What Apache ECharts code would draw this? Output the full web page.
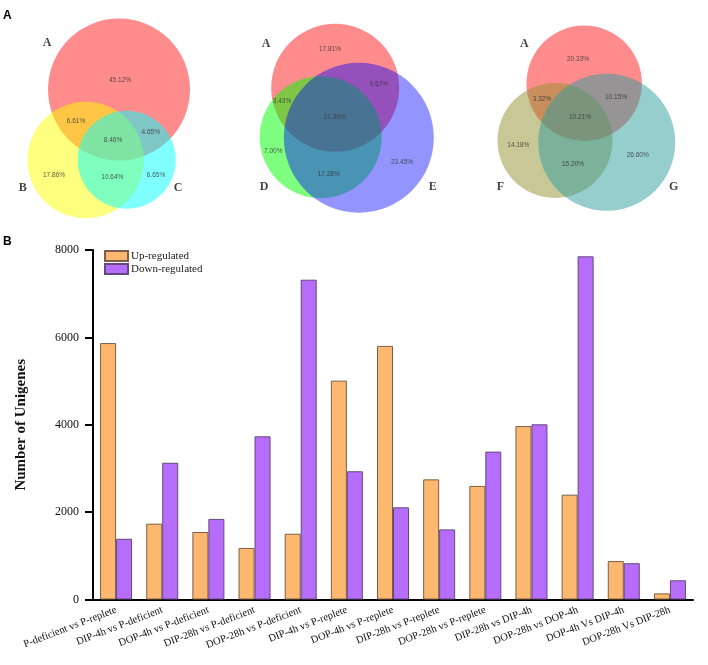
<!DOCTYPE html>
<html>
<head>
<meta charset="utf-8">
<script src="https://cdn.jsdelivr.net/npm/echarts@6/dist/echarts.min.js"></script>
<style>
  html, body { margin: 0; padding: 0; background: #fff; }
  #chart { width: 708px; height: 665px; }
</style>
</head>
<body>
<div id="chart"></div>
<script>
// panel B data
const categories = [
  'P-deficient vs P-replete', 'DIP-4h vs P-deficient', 'DOP-4h vs P-deficient',
  'DIP-28h vs P-deficient', 'DOP-28h vs P-deficient', 'DIP-4h vs P-replete',
  'DOP-4h vs P-replete', 'DIP-28h vs P-replete', 'DOP-28h vs P-replete',
  'DIP-28h vs DIP-4h', 'DOP-28h vs DOP-4h', 'DOP-4h Vs DIP-4h', 'DOP-28h Vs DIP-28h'
]
const upRegulated = [5870, 1735, 1545, 1180, 1505, 5010, 5805, 2750, 2600, 3970, 2400, 880, 140]
const downRegulated = [1390, 3130, 1845, 3735, 7320, 2935, 2110, 1605, 3385, 4010, 7855, 830, 440]
const yMin = 0
const yMax = 8000
const yStep = 2000

// panel A: venn circles [cx, cy, r] in panel units
const vennCircles = [
  [119, 89.5, 71], [85.7, 160, 58.3], [126.7, 159.7, 49],
  [335.2, 87.8, 64], [320.7, 137.2, 61], [358.8, 137.7, 75],
  [584.2, 83.3, 57.7], [555, 140.5, 57.5], [606.7, 142.3, 68.5]
]
const vennSetNames = [
  ['A', 47, 43], ['B', 22.7, 188], ['C', 178, 188],
  ['A', 266, 44.3], ['D', 264, 187.3], ['E', 432.7, 187.3],
  ['A', 524.3, 44.3], ['F', 500.3, 187.3], ['G', 673.7, 187.3]
]
const vennPercents = [
  ['45.12%', 120, 80.7], ['6.61%', 76, 121], ['8.46%', 113, 140.7], ['4.65%', 150.7, 132.3],
  ['17.86%', 54, 175.7], ['10.64%', 112.3, 177.3], ['6.65%', 156, 175.7],
  ['17.81%', 330, 49.3], ['9.67%', 378.7, 84.7], ['3.43%', 282, 101], ['21.36%', 334.7, 117.3],
  ['7.00%', 273.3, 151.7], ['23.45%', 402, 162.3], ['17.28%', 328.7, 174],
  ['20.33%', 578, 59.3], ['3.32%', 542, 99.3], ['10.15%', 616, 97.7], ['10.21%', 580, 117],
  ['14.18%', 518.3, 145.7], ['15.20%', 573, 164], ['26.60%', 637.7, 155.7]
]

const circleColors = [
  'rgba(255,0,0,0.45)', 'rgba(255,255,0,0.5)', 'rgba(0,255,255,0.5)',
  'rgba(255,0,0,0.45)', 'rgba(0,255,0,0.5)', 'rgba(0,0,255,0.42)',
  'rgba(255,0,0,0.45)', 'rgba(145,145,45,0.5)', 'rgba(45,155,155,0.5)'
]
const serif = '"Liberation Serif", "Times New Roman", serif'
const sans = '"Liberation Sans", Arial, sans-serif'

let mychart = echarts.init(document.getElementById('chart'))

let option = {
  animation: false,
  backgroundColor: '#fff',
  title: [
    { text: 'A', left: 3, top: 10, padding: 0, textStyle: { fontFamily: sans, fontSize: 12, fontWeight: 'bold', color: '#000' } },
    { text: 'B', left: 3, top: 236, padding: 0, textStyle: { fontFamily: sans, fontSize: 12, fontWeight: 'bold', color: '#000' } }
  ],
  legend: {
    data: ['Up-regulated', 'Down-regulated'],
    orient: 'vertical',
    left: 104,
    top: 250,
    padding: 0,
    itemWidth: 23,
    itemHeight: 10,
    itemGap: 1,
    icon: 'rect',
    textStyle: { fontFamily: serif, fontSize: 11, color: '#222', padding: [0, 0, 0, -2] }
  },
  grid: [
    { left: 0, top: 0, width: 708, height: 230 },
    { left: 93, top: 250, width: 600, height: 349.5 }
  ],
  xAxis: [
    { gridIndex: 0, type: 'value', min: 0, max: 708, show: false },
    {
      gridIndex: 1,
      type: 'category',
      data: categories,
      axisLine: { lineStyle: { color: '#000', width: 2 } },
      axisTick: { alignWithLabel: true, length: 7, lineStyle: { color: '#000', width: 2 } },
      axisLabel: { interval: 0, rotate: 21, margin: 10, fontFamily: serif, fontSize: 10.5, color: '#111' }
    }
  ],
  yAxis: [
    { gridIndex: 0, type: 'value', min: 0, max: 230, inverse: true, show: false },
    {
      gridIndex: 1,
      type: 'value',
      min: yMin,
      max: yMax,
      interval: yStep,
      splitLine: { show: false },
      axisLine: { show: true, lineStyle: { color: '#000', width: 2 } },
      axisTick: { show: true, length: 8, lineStyle: { color: '#000', width: 2 } },
      axisLabel: { margin: 14, fontFamily: serif, fontSize: 12, color: '#111', formatter: v => String(v) },
      name: 'Number of Unigenes',
      nameLocation: 'middle',
      nameRotate: 90,
      nameGap: 64,
      nameTextStyle: { fontFamily: serif, fontSize: 15, fontWeight: 'bold', color: '#111' }
    }
  ],
  series: [
    {
      type: 'custom',
      xAxisIndex: 0,
      yAxisIndex: 0,
      clip: false,
      silent: true,
      data: vennCircles,
      renderItem(params, api) {
        let c = api.coord([api.value(0), api.value(1)])
        let r = api.size([api.value(2), 0])[0]
        return {
          type: 'circle',
          shape: { cx: c[0], cy: c[1], r: r },
          style: { fill: circleColors[params.dataIndex] }
        }
      }
    },
    {
      type: 'scatter',
      xAxisIndex: 0,
      yAxisIndex: 0,
      symbolSize: 0,
      silent: true,
      data: vennSetNames.map(d => ({ name: d[0], value: [d[1], d[2]] })),
      label: {
        show: true,
        position: 'inside',
        formatter: '{b}',
        fontFamily: serif,
        fontSize: 12,
        fontWeight: 'bold',
        color: '#111'
      }
    },
    {
      type: 'scatter',
      xAxisIndex: 0,
      yAxisIndex: 0,
      symbolSize: 0,
      silent: true,
      data: vennPercents.map(d => ({ name: d[0], value: [d[1], d[2]] })),
      label: {
        show: true,
        position: 'inside',
        formatter: '{b}',
        fontFamily: sans,
        fontSize: 6.5,
        color: '#333'
      }
    },
    {
      name: 'Up-regulated',
      type: 'bar',
      xAxisIndex: 1,
      yAxisIndex: 1,
      data: upRegulated,
      barWidth: 16,
      barGap: '0%',
      itemStyle: { color: '#FDB870', borderColor: '#7a6048', borderWidth: 1 }
    },
    {
      name: 'Down-regulated',
      type: 'bar',
      xAxisIndex: 1,
      yAxisIndex: 1,
      data: downRegulated,
      barWidth: 16,
      barGap: '0%',
      itemStyle: { color: '#B76DFB', borderColor: '#65487a', borderWidth: 1 }
    }
  ]
}
mychart.setOption(option)
</script>
</body>
</html>
